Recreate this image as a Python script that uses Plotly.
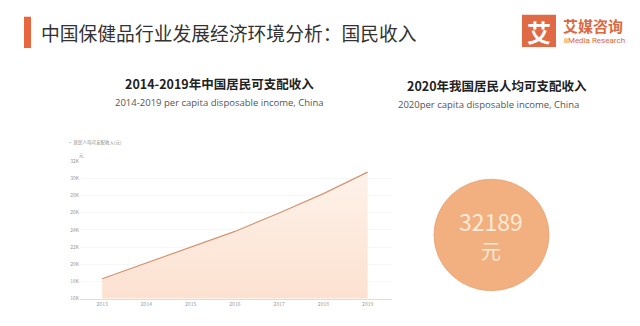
import plotly.graph_objects as go

# ---- data ----
years = [2013, 2014, 2015, 2016, 2017, 2018, 2019]
income = [18311, 20167, 21966, 23821, 25974, 28228, 30733]
y_tickvals = [16000, 18000, 20000, 22000, 24000, 26000, 28000, 30000, 32000]
y_ticktext = ["16K", "18K", "20K", "22K", "24K", "26K", "28K", "30K", "32K"]
x_ticktext = ["2013", "2014", "2015", "2016", "2017", "2018", "2019"]
income_2020 = "32189"

W, H = 640, 326
CJK = "Noto Sans CJK SC"


def px(x):
    return x / W


def py(y):
    return 1 - y / H


fig = go.Figure()
fig.add_trace(go.Scatter(
    x=years, y=income, mode="lines",
    line=dict(color="#D49470", width=1.2),
    fill="tozeroy",
    fillgradient=dict(type="vertical", start=16000, stop=31000,
                      colorscale=[[0, "#FCE1D0"], [1, "#FEF2EA"]]),
    hoverinfo="skip", showlegend=False,
))

fig.update_layout(
    width=W, height=H,
    margin=dict(l=0, r=0, t=0, b=0),
    paper_bgcolor="white", plot_bgcolor="white",
    font=dict(family=CJK, color="#333"),
    xaxis=dict(domain=[px(80), px(392)], range=[2012.5, 2019.55],
               tickvals=years, ticktext=x_ticktext,
               tickfont=dict(size=5, color="#999"),
               showline=True, linecolor="#DDDDDD", linewidth=1,
               showgrid=False, zeroline=False, ticks=""),
    yaxis=dict(domain=[py(301), py(160.7)], range=[16000, 32000],
               tickvals=y_tickvals, ticktext=y_ticktext,
               tickfont=dict(size=5, color="#999"),
               showgrid=True, gridcolor="#F7F7F7", zeroline=False,
               showline=False, ticks=""),
)

shapes = [
    # header accent bar
    dict(type="rect", xref="paper", yref="paper",
         x0=px(24), x1=px(31), y0=py(45), y1=py(13),
         fillcolor="#E8663E", line=dict(width=0)),
    # logo square
    dict(type="rect", xref="paper", yref="paper",
         x0=px(522), x1=px(556), y0=py(44), y1=py(11),
         fillcolor="#E06A45", line=dict(width=0)),
    # circle
    dict(type="circle", xref="paper", yref="paper",
         x0=px(434), x1=px(549), y0=py(293), y1=py(179),
         fillcolor="#F2AF80", line=dict(color="#E9A375", width=0.8)),
]


def ann(text, x, y, size, color, family=CJK, xanchor="center"):
    return dict(text=text, x=px(x), y=py(y), xref="paper", yref="paper",
                xanchor=xanchor, yanchor="middle", showarrow=False,
                font=dict(size=size, color=color, family=family))


annotations = [
    ann("中国保健品行业发展经济环境分析：国民收入", 39, 29, 18.8, "#333", xanchor="left"),
    ann("<b>艾</b>", 539, 28, 24, "white"),
    ann("<b>艾媒咨询</b>", 561, 22, 15, "#DD6840", xanchor="left"),
    ann("iiMedia Research", 562, 37, 8, "#DD6840", family="Roboto", xanchor="left"),
    ann("<b>2014-2019年中国居民可支配收入</b>", 219, 81, 12.5, "#222"),
    ann("2014-2019 per capita disposable income, China", 219, 101, 9.5, "#555",
        family="Open Sans"),
    ann("<b>2020年我国居民人均可支配收入</b>", 497, 83, 12.5, "#222"),
    ann("2020per capita disposable income, China", 488, 102.5, 9.5, "#555",
        family="Open Sans"),
    ann("· 居民人均可支配收入(元)", 66, 142, 4.5, "#888", xanchor="left"),
    ann("元", 81, 154.5, 4.5, "#888"),
    ann(income_2020, 491, 221.5, 23, "#FCEBD6"),
    ann("元", 491, 252, 20, "#FCEBD6"),
]

fig.update_layout(shapes=shapes, annotations=annotations)
fig.write_html("out.html")
